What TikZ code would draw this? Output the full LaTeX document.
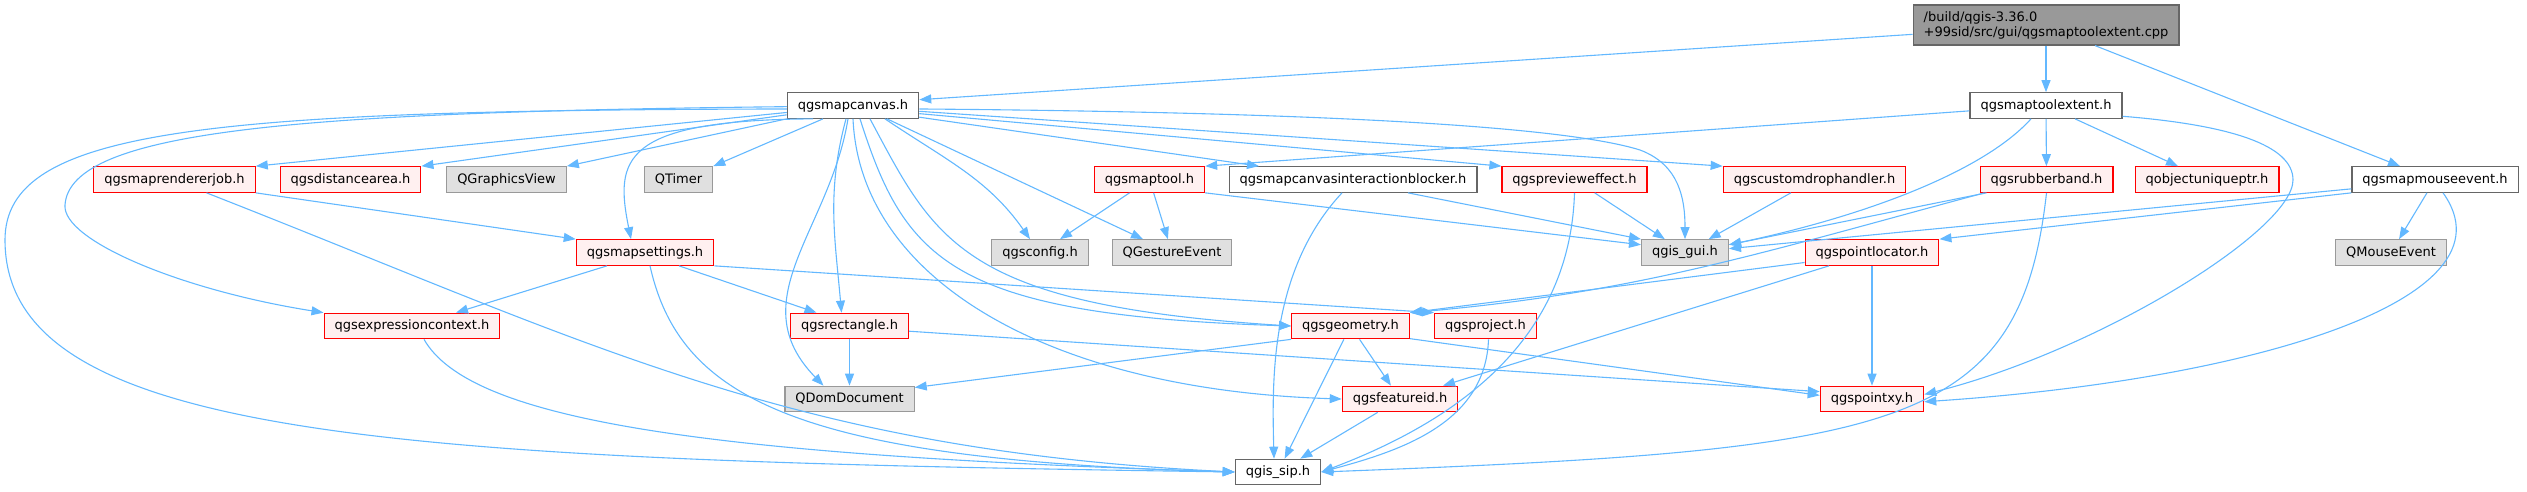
\documentclass[tikz,border=0pt]{standalone}
\usepackage{fontspec}
\setmainfont{DejaVu Sans}
\usetikzlibrary{arrows.meta}
\definecolor{depblue}{HTML}{63B8FF}
\definecolor{redfill}{HTML}{FFF0F0}
\definecolor{extfill}{HTML}{E0E0E0}
\definecolor{extgray}{HTML}{999999}
\definecolor{plaingray}{HTML}{666666}
\definecolor{rootfill}{HTML}{999999}
\begin{document}
\begin{tikzpicture}[x=1pt, y=1pt,
    box/.style={draw, line width=1.2pt, font=\fontsize{13}{15}\selectfont, inner xsep=10.5pt, inner ysep=2pt, minimum height=25.5pt},
    plainbox/.style={box, draw=plaingray, fill=white},
    redbox/.style={box, draw=red, fill=redfill},
    extbox/.style={box, draw=extgray, fill=extfill},
    rootbox/.style={box, draw=plaingray, fill=rootfill, align=left, minimum height=40pt},
    dep/.style={draw=depblue, line width=1.1pt, -{Triangle[length=12pt,width=9pt]}}]
    \useasboundingbox (0,0) rectangle (2527,-491);
    \node[rootbox] (root) at (2046,-25) {/build/qgis-3.36.0\\+99sid/src/gui/qgsmaptoolextent.cpp};
    \node[plainbox] (canvas) at (853,-105.5) {qgsmapcanvas.h};
    \node[plainbox] (toolextent) at (2046,-105.5) {qgsmaptoolextent.h};
    \node[redbox] (rendererjob) at (174.5,-179.5) {qgsmaprendererjob.h};
    \node[redbox] (distancearea) at (350.5,-179.5) {qgsdistancearea.h};
    \node[extbox] (graphicsview) at (506.5,-179.5) {QGraphicsView};
    \node[extbox] (timer) at (678.5,-179.5) {QTimer};
    \node[redbox] (maptool) at (1149.5,-179.5) {qgsmaptool.h};
    \node[plainbox] (blocker) at (1353,-179.5) {qgsmapcanvasinteractionblocker.h};
    \node[redbox] (previeweffect) at (1574.5,-179.5) {qgsprevieweffect.h};
    \node[redbox] (customdrop) at (1814.5,-179.5) {qgscustomdrophandler.h};
    \node[redbox] (rubberband) at (2046.5,-179.5) {qgsrubberband.h};
    \node[redbox] (uniqueptr) at (2207,-179.5) {qobjectuniqueptr.h};
    \node[plainbox] (mouseevent) at (2435,-179.5) {qgsmapmouseevent.h};
    \node[redbox] (mapsettings) at (645,-252.5) {qgsmapsettings.h};
    \node[extbox] (config) at (1040,-252.5) {qgsconfig.h};
    \node[extbox] (gesture) at (1172,-252.5) {QGestureEvent};
    \node[extbox] (gisgui) at (1685,-252.5) {qgis\_gui.h};
    \node[redbox] (pointlocator) at (1872,-252.5) {qgspointlocator.h};
    \node[extbox] (qmouse) at (2391,-252.5) {QMouseEvent};
    \node[redbox] (exprcontext) at (412,-326) {qgsexpressioncontext.h};
    \node[redbox] (rectangle) at (849.5,-326) {qgsrectangle.h};
    \node[redbox] (geometry) at (1350.5,-326) {qgsgeometry.h};
    \node[redbox] (project) at (1485.5,-326) {qgsproject.h};
    \node[extbox] (domdoc) at (849.5,-399) {QDomDocument};
    \node[redbox] (featureid) at (1400,-399) {qgsfeatureid.h};
    \node[redbox] (pointxy) at (1872,-399) {qgspointxy.h};
    \node[plainbox] (gissip) at (1278,-472) {qgis\_sip.h};

    \draw[dep] (root.184) -- (canvas.5);
    \draw[dep] (root) -- (toolextent);
    \draw[dep] ([xshift=49pt]root.south) -- ([xshift=-35pt]mouseevent.north);

    \draw[dep] (toolextent.184) -- (maptool.north east);
    \draw[dep] ([xshift=-15pt]toolextent.south) .. controls (1985,-170) and (1870,-215) .. (gisgui.10);
    \draw[dep] (toolextent) -- (rubberband);
    \draw[dep] (toolextent) -- (uniqueptr);
    \draw[dep] (toolextent.-8) .. controls (2230,-125) and (2293,-145) .. (2293,-180) .. controls (2293,-230) and (2100,-350) .. (pointxy.5);

    \draw[dep] (canvas.183) .. controls (200,-110) and (5,-130) .. (5,-240) .. controls (5,-440) and (400,-460) .. (gissip.west);
    \draw[dep] (canvas.181) .. controls (300,-112) and (70,-130) .. (65,-205) .. controls (62,-240) and (180,-290) .. (exprcontext.north west);
    \draw[dep] (canvas.186) -- (rendererjob.north east);
    \draw[dep] (canvas.188) -- (distancearea.north east);
    \draw[dep] (canvas.south west) -- (graphicsview.north east);
    \draw[dep] ([xshift=-30pt]canvas.south) -- (timer.north east);
    \draw[dep] ([xshift=-40pt]canvas.south) .. controls (620,-120) and (615,-160) .. ([xshift=-14pt]mapsettings.north);
    \draw[dep] ([xshift=-5pt]canvas.south) .. controls (830,-230) and (740,-300) .. ([xshift=-26pt]domdoc.north);
    \draw[dep] ([xshift=-7pt]canvas.south) to[out=-105,in=95] ([xshift=-8pt]rectangle.north);
    \draw[dep] (canvas.south) .. controls (860,-280) and (1050,-390) .. (featureid.west);
    \draw[dep] ([xshift=17pt]canvas.south) .. controls (935,-240) and (960,-305) .. (geometry.west);
    \draw[dep] ([xshift=7pt]canvas.south) .. controls (905,-260) and (950,-315) .. (geometry.west);
    \draw[dep] ([xshift=32pt]canvas.south) to[out=-34,in=125] ([xshift=-10pt]config.north);
    \draw[dep] ([xshift=34pt]canvas.south) -- ([xshift=-29pt]gesture.north);
    \draw[dep] (canvas.-10) -- ([xshift=-94pt]blocker.north);
    \draw[dep] (canvas.-7) -- (previeweffect.north west);
    \draw[dep] (canvas.-5) -- (customdrop.north west);
    \draw[dep] (canvas.-3) .. controls (1300,-112) and (1560,-125) .. (1640,-150) .. controls (1680,-165) and (1685,-200) .. (gisgui.north);

    \draw[dep] (rendererjob.south east) -- (mapsettings.north west);
    \draw[dep] ([xshift=32pt]rendererjob.south) .. controls (595,-345) and (790,-450) .. (gissip.west);

    \draw[dep] ([xshift=-38pt]mapsettings.south) -- ([xshift=44pt]exprcontext.north);
    \draw[dep] ([xshift=34pt]mapsettings.south) -- ([xshift=-33pt]rectangle.north);
    \draw[dep] ([xshift=5pt]mapsettings.south) .. controls (680,-400) and (800,-460) .. (gissip.west);
    \draw[dep] (mapsettings.south east) -- (project.north west);

    \draw[dep] ([xshift=12pt]exprcontext.south) .. controls (470,-420) and (700,-455) .. (gissip.west);
    \draw[dep] (rectangle) -- (domdoc);
    \draw[dep] (rectangle.-5) -- (pointxy.172);

    \draw[dep] (geometry.south west) -- (domdoc.10);
    \draw[dep] (geometry) -- (featureid);
    \draw[dep] (geometry) -- (gissip);
    \draw[dep] (geometry.-12) -- (pointxy.176);
    \draw[dep] ([xshift=3pt]project.south) to[out=-92,in=15] (gissip.east);
    \draw[dep] (featureid) -- (gissip);

    \draw[dep] (maptool) -- (config);
    \draw[dep] (maptool) -- (gesture);
    \draw[dep] (maptool.south east) -- (gisgui.170);
    \draw[dep] ([xshift=55pt]blocker.south) -- (gisgui.north west);
    \draw[dep] ([xshift=-11pt]blocker.south) .. controls (1270,-270) and (1272,-380) .. ([xshift=-4pt]gissip.north);
    \draw[dep] (previeweffect) -- (gisgui);
    \draw[dep] (previeweffect.south) .. controls (1570,-339) and (1459,-420) .. (gissip.east);
    \draw[dep] (customdrop) -- (gisgui);

    \draw[dep] ([xshift=-60pt]rubberband.south) -- (gisgui.10);
    \draw[dep] ([xshift=-62pt]rubberband.south) to[out=195,in=5] (geometry.north east);
    \draw[dep] (rubberband.south) .. controls (2020,-430) and (1900,-450) .. (gissip.east);

    \draw[dep] ([yshift=4pt]mouseevent.south west) -- (gisgui.5);
    \draw[dep] (mouseevent.south west) -- (pointlocator.north east);
    \draw[dep] (mouseevent) -- (qmouse);
    \draw[dep] ([xshift=8pt]mouseevent.south) .. controls (2520,-300) and (2250,-380) .. (pointxy.-3);

    \draw[dep] ([yshift=-10pt]pointlocator.west) -- (geometry.north east);
    \draw[dep] (pointlocator) -- (featureid);
    \draw[dep] (pointlocator) -- (pointxy);
\end{tikzpicture}
\end{document}
